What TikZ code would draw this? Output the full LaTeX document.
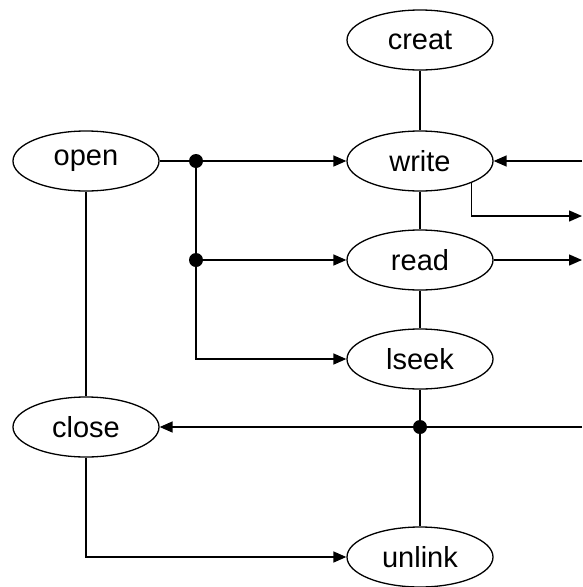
\documentclass[tikz,border=0pt]{standalone}
\usepackage{fontspec}
\setmainfont{Liberation Sans}
\usetikzlibrary{shapes.geometric,arrows.meta}
\tikzset{
  op/.style={ellipse,draw,line width=1.3pt,minimum width=146pt,minimum height=60pt,inner sep=0pt,font=\fontsize{29}{31}\selectfont},
  jdot/.style={circle,fill=black,inner sep=0pt,minimum size=14pt},
  arr/.style={-{Triangle[length=13pt,width=11pt]}},
  every path/.style={line width=1.4pt}
}
\begin{document}
\begin{tikzpicture}[x=1pt,y=-1pt]
\useasboundingbox (0,0) rectangle (582,587);
\node[op] (creat) at (420,40) {creat};
\node[op] (write) at (420,161) {write};
\node[op] (read) at (420,260) {read};
\node[op] (lseek) at (420,359) {lseek};
\node[op] (open) at (86,161) {open};
\node[op] (close) at (86,427) {close};
\node[op] (unlink) at (420,557) {unlink};
\coordinate (rW) at (582,161);
\coordinate (rW2) at (582,216);
\coordinate (rR) at (582,260);
\coordinate (rC) at (582,427);
\coordinate (p1) at (196,161);
\coordinate (p2) at (196,260);
\coordinate (p3) at (420,427);
% connectors
\draw (open) -- (p1);
\draw[arr] (p1) -- (write);
\draw[arr] (p2) -- (read);
\draw[arr] (p1) |- (lseek.west);
\draw (creat) -- (write);
\draw (write) -- (read);
\draw (read) -- (lseek);
\draw (lseek) -- (unlink);
\draw[arr] (rC) -- (close);
\draw[arr] (rW) -- (write);
\draw[arr] (read) -- (rR);
\draw[arr] (write.-23.6) |- (rW2);
\draw (open) -- (close);
\draw[arr] (close) |- (unlink.west);
\node[jdot] (d1) at (p1) {};
\node[jdot] (d2) at (p2) {};
\node[jdot] (d3) at (p3) {};
\end{tikzpicture}
\end{document}
